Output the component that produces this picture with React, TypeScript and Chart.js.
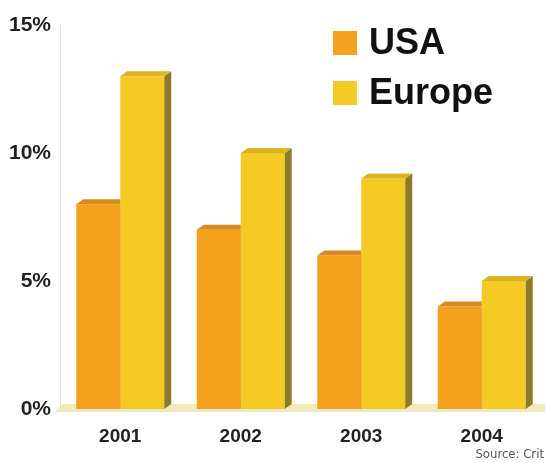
import React, { useEffect, useRef } from "react";
import { Chart, registerables } from "chart.js";

Chart.register(...registerables);

const categories = ["2001", "2002", "2003", "2004"];
const usaValues = [8, 7, 6, 4];
const europeValues = [13, 10, 9, 5];
const yTicks = [0, 5, 10, 15];
const seriesNames = ["USA", "Europe"];

const FRONT = ["#F4A21E", "#F6CA24"];
const TOP = ["#D88C1E", "#D9B520"];
const SIDE = ["#B57A18", "#8E7B2A"];
const DX = 7;
const DY = 5;

const threeD = {
  id: "threeD",
  beforeDatasetsDraw(chart: any) {
    const { ctx, chartArea } = chart;
    const yb = chart.scales.y.getPixelForValue(0);
    ctx.save();
    ctx.fillStyle = "#F1EBB6";
    ctx.beginPath();
    ctx.moveTo(chartArea.left - 4, yb + 1);
    ctx.lineTo(chartArea.left + 3, yb - DY);
    ctx.lineTo(chart.width, yb - DY);
    ctx.lineTo(chart.width, yb + 1);
    ctx.closePath();
    ctx.fill();
    ctx.fillStyle = "#E9E6D2";
    ctx.fillRect(chartArea.left - 4, yb + 1, chart.width, 2);
    ctx.restore();
  },
  afterDatasetDraw(chart: any, args: any) {
    const { ctx } = chart;
    const i = args.index;
    const meta = chart.getDatasetMeta(i);
    meta.data.forEach((bar: any) => {
      const p = bar.getProps(["x", "y", "base", "width"], true);
      const l = p.x - p.width / 2;
      const r = p.x + p.width / 2;
      ctx.save();
      if (i === 0) {
        // the USA bar sits behind the taller Europe bar on its right
        ctx.beginPath();
        ctx.rect(0, 0, r, chart.height);
        ctx.clip();
      }
      ctx.fillStyle = SIDE[i];
      ctx.beginPath();
      ctx.moveTo(r, p.y);
      ctx.lineTo(r + DX, p.y - DY);
      ctx.lineTo(r + DX, p.base - DY);
      ctx.lineTo(r, p.base);
      ctx.closePath();
      ctx.fill();
      ctx.fillStyle = TOP[i];
      ctx.beginPath();
      ctx.moveTo(l, p.y);
      ctx.lineTo(l + DX, p.y - DY);
      ctx.lineTo(r + DX, p.y - DY);
      ctx.lineTo(r, p.y);
      ctx.closePath();
      ctx.fill();
      ctx.restore();
    });
  },
};

export default function App() {
  const ref = useRef<HTMLCanvasElement>(null);
  useEffect(() => {
    if (!ref.current) return;
    const chart = new Chart(ref.current, {
      type: "bar",
      data: {
        labels: categories,
        datasets: [
          { label: seriesNames[0], data: usaValues, backgroundColor: FRONT[0] },
          { label: seriesNames[1], data: europeValues, backgroundColor: FRONT[1] },
        ],
      },
      options: {
        responsive: false,
        animation: false,
        layout: { padding: { top: 25, right: 3, left: 0, bottom: 0 } },
        datasets: { bar: { categoryPercentage: 0.73, barPercentage: 1, borderWidth: 0 } },
        plugins: { legend: { display: false }, tooltip: { enabled: false } },
        scales: {
          x: {
            grid: { display: false, drawTicks: false },
            border: { display: false },
            ticks: {
              color: "#222",
              font: { family: "Liberation Sans, Arial, sans-serif", size: 19, weight: "bold" },
              padding: 16,
            },
            afterFit: (s: any) => { s.height = 54; },
          },
          y: {
            min: 0,
            max: 15,
            afterBuildTicks: (s: any) => { s.ticks = yTicks.map((v) => ({ value: v })); },
            grid: { display: false, drawTicks: false },
            border: { display: true, color: "#E2E2E2", width: 1 },
            ticks: {
              color: "#222",
              font: { family: "Liberation Sans, Arial, sans-serif", size: 21, weight: "bold" },
              padding: 9,
              callback: (v: any) => v + "%",
            },
            afterFit: (s: any) => { s.width = 60; },
          },
        },
      },
      plugins: [threeD],
    });
    return () => chart.destroy();
  }, []);

  const legendText: React.CSSProperties = {
    position: "absolute",
    left: 369,
    fontFamily: "Liberation Sans, Arial, sans-serif",
    fontWeight: "bold",
    fontSize: 36,
    lineHeight: "36px",
    color: "#111",
    whiteSpace: "nowrap",
  };
  const sq = (c: string, top: number): React.CSSProperties => ({
    position: "absolute", left: 333, top, width: 24, height: 24, background: c,
  });

  return (
    <div style={{ position: "absolute", left: 0, top: 0, width: 545, height: 463, background: "#fff", overflow: "hidden" }}>
      <canvas ref={ref} width={545} height={463} style={{ display: "block" }} />
      <div style={sq(FRONT[0], 31)} />
      <div style={{ ...legendText, top: 24 }}>{seriesNames[0]}</div>
      <div style={sq(FRONT[1], 81)} />
      <div style={{ ...legendText, top: 74 }}>{seriesNames[1]}</div>
      <div style={{ position: "absolute", right: 1, top: 446, fontFamily: "Liberation Sans Narrow, DejaVu Sans Condensed, sans-serif", fontSize: 13, color: "#555" }}>Source: Crit</div>
    </div>
  );
}
